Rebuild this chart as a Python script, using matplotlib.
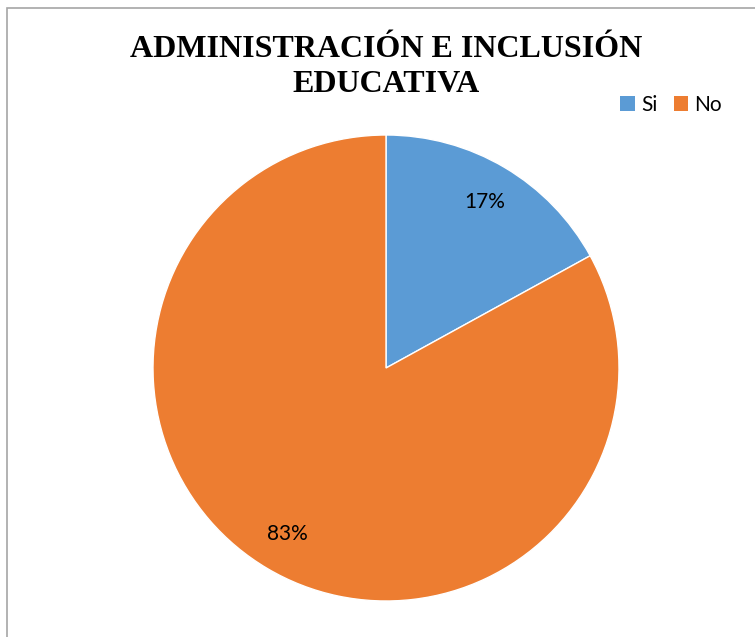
import matplotlib
matplotlib.use("Agg")
import matplotlib.pyplot as plt
from matplotlib.patches import Rectangle, Patch

title = "ADMINISTRACIÓN E INCLUSIÓN\nEDUCATIVA"
categories = ["Si", "No"]
values = [17, 83]
colors = ["#5B9BD5", "#ED7D31"]

W, H = 755, 637
fig = plt.figure(figsize=(W/100, H/100), dpi=100)

# outer border (extends beyond right and bottom edges)
fig.patches.append(Rectangle((7/W, -0.05), 1.1, 1 - 8/H + 0.05, transform=fig.transFigure,
                             fill=False, edgecolor="#A6A6A6", linewidth=1.2))

cx, cy, r = 386, 637 - 368, 233
ax = fig.add_axes([(cx - r)/W, (cy - r)/H, 2*r/W, 2*r/H])
wedges, texts, autotexts = ax.pie(values, colors=colors, startangle=90, counterclock=False,
                                  autopct="%1.0f%%", pctdistance=0.83, radius=1,
                                  wedgeprops=dict(edgecolor="white", linewidth=1),
                                  textprops=dict(fontsize=15, family="Lato", color="black"))
ax.set_xlim(-1, 1)
ax.set_ylim(-1, 1)
ax.set_aspect("equal")
ax.axis("off")

fig.text(386/W, 1 - 67/H, title, ha="center", va="center", fontsize=23, fontweight="bold",
         family="Liberation Serif", linespacing=1.3)

handles = [Patch(facecolor=c, edgecolor="none") for c in colors]
fig.legend(handles, categories, loc="center left", bbox_to_anchor=(620/W, 1 - 105/H),
           ncol=2, frameon=False, prop=dict(family="Lato", size=15),
           handlelength=0.7, handleheight=0.7, handletextpad=0.3, columnspacing=0.8,
           borderpad=0, borderaxespad=0)

fig.savefig("out.png", dpi=100)
